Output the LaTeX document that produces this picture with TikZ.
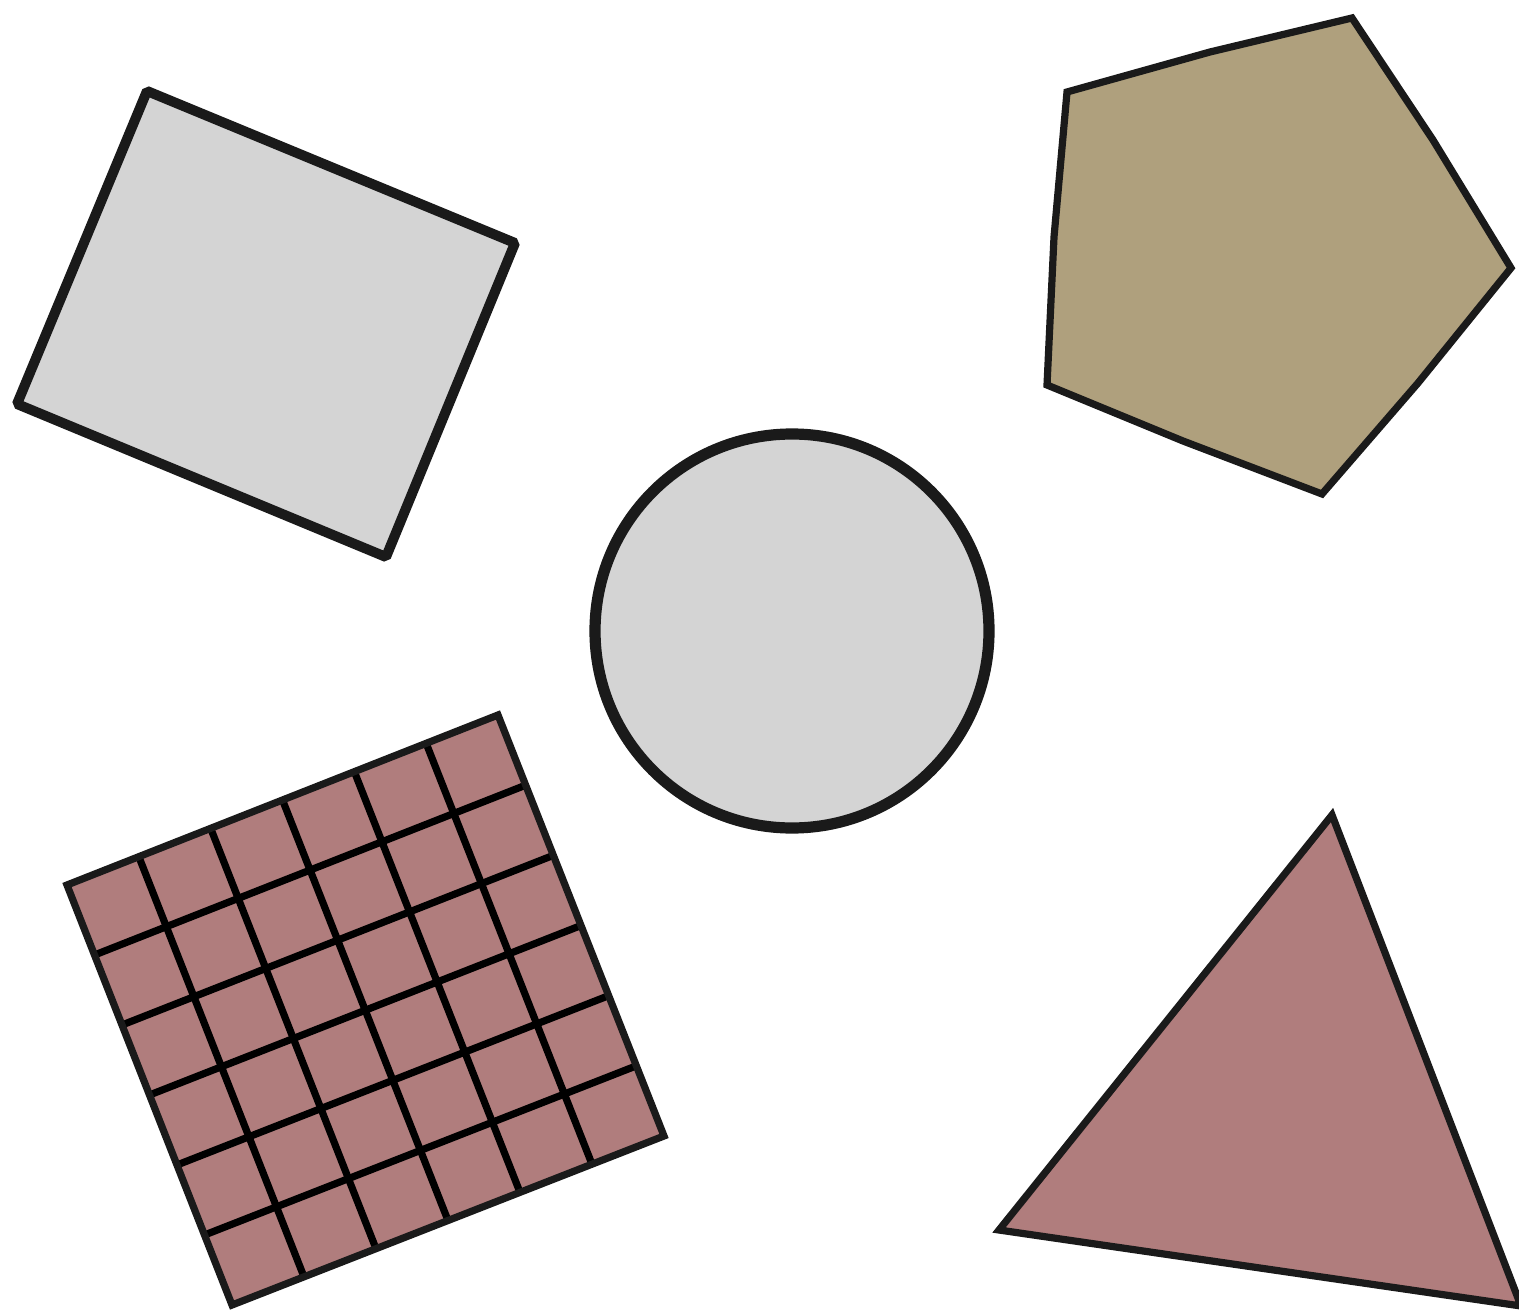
\documentclass[tikz,border=0pt]{standalone}
\usetikzlibrary{calc}
\definecolor{shapegray}{HTML}{D4D4D4}
\definecolor{shaperose}{HTML}{B07D7D}
\definecolor{shapetan}{HTML}{AFA07D}
\definecolor{strokec}{HTML}{1A1A1A}
\begin{document}
\begin{tikzpicture}[x=0.5pt,y=-0.5pt,
  outline/.style={draw=strokec,line join=miter},
  gridline/.style={draw=black,line width=3.6pt}]
\useasboundingbox (0,0) rectangle (1519,1315);
\clip (0,0) rectangle (1519,1315);
% rotated rectangle
\path[outline,fill=shapegray,line width=5pt,line join=bevel]
  (147,91) -- (515,243) -- (386,557) -- (17,404) -- cycle;
% pentagon
\path[outline,fill=shapetan,line width=3.6pt]
  (1067,92) -- (1210,52) -- (1352,18) -- (1433,140) -- (1511,268) -- (1418,383)
  -- (1322,494) -- (1183,441) -- (1047,385) -- (1054,237) -- cycle;
% circle
\path[outline,fill=shapegray,line width=5.6pt] (792,631) circle [radius=197];
% grid square
\coordinate (g00) at (67,885);
\coordinate (gA) at (498,715);
\coordinate (gB) at (232,1305);
\coordinate (gC) at (664,1136);
\path[fill=shaperose] (g00) -- (gA) -- (gC) -- (gB) -- cycle;
\foreach \i in {1,...,5}{
  \draw[gridline] ($(g00)!\i/6!(gA)$) -- ($(gB)!\i/6!(gC)$);
  \draw[gridline] ($(g00)!\i/6!(gB)$) -- ($(gA)!\i/6!(gC)$);
}
\path[outline,line width=3.6pt] (g00) -- (gA) -- (gC) -- (gB) -- cycle;
% triangle
\path[outline,fill=shaperose,line width=3.6pt]
  (1332,815) -- (1521,1306) -- (999,1230) -- cycle;
\end{tikzpicture}
\end{document}
